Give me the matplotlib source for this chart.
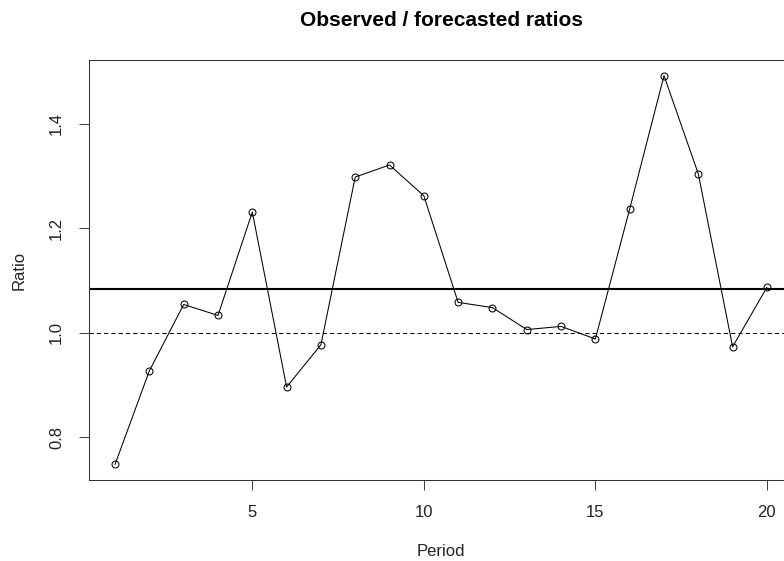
import matplotlib
matplotlib.use("Agg")
import matplotlib.pyplot as plt

periods = list(range(1, 21))
ratios = [0.748, 0.927, 1.054, 1.033, 1.231, 0.896, 0.977, 1.298, 1.321, 1.262,
          1.058, 1.048, 1.006, 1.012, 0.988, 1.237, 1.492, 1.304, 0.973, 1.087]
mean_line = 1.083
ref_line = 1.0
xticks = [5, 10, 15, 20]
yticks = [0.8, 1.0, 1.2, 1.4]

plt.rcParams['font.family'] = ['Liberation Sans', 'DejaVu Sans']

W, H = 784, 561
fig = plt.figure(figsize=(W / 100, H / 100), dpi=100)
left, right, top, bottom = 89, 793, 60, 480
ax = fig.add_axes([left / W, (H - bottom) / H, (right - left) / W, (bottom - top) / H])

ax.plot(periods, ratios, color='black', lw=0.75, marker='o', markersize=5,
        markerfacecolor='none', markeredgewidth=0.75)
ax.axhline(mean_line, color='black', lw=1.5)
ax.axhline(ref_line, color='black', lw=0.75, ls=(0, (4, 3)))

ax.set_xlim(0.24, 20.76)
ax.set_ylim(0.718, 1.522)
ax.set_xticks(xticks)
ax.set_yticks(yticks)
ax.set_xticklabels([str(v) for v in xticks])
ax.set_yticklabels([f"{v:.1f}" for v in yticks], rotation=90, va='center')
ax.tick_params(direction='out', length=7, width=0.75, labelsize=12, pad=11,
               color='#444444', labelcolor='#222222')
for s in ax.spines.values():
    s.set_linewidth(0.75)
    s.set_color('#333333')

ax.set_xlabel("Period", fontsize=12, labelpad=17, color='#222222')
ax.set_ylabel("Ratio", fontsize=12, labelpad=16, color='#222222')
fig.text((89 + 793) / 2 / W, 1 - 20 / H, "Observed / forecasted ratios",
         ha='center', va='center', fontsize=15, fontweight='bold')

fig.savefig("out.png", dpi=100)
